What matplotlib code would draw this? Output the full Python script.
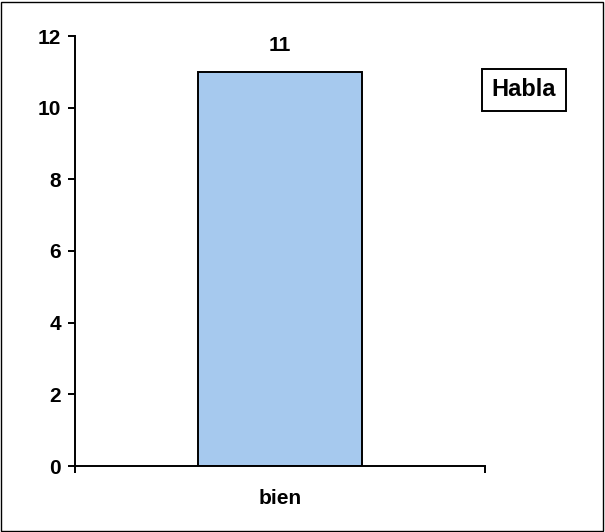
import matplotlib.pyplot as plt
from matplotlib.patches import Rectangle

categories = ['bien']
values = [11]
legend_label = 'Habla'

plt.rcParams['font.family'] = ['Liberation Sans', 'DejaVu Sans']

fig = plt.figure(figsize=(6.05, 5.32), dpi=100)
ax = fig.add_axes([75 / 605, 66 / 532, 410 / 605, 430 / 532])

bars = ax.bar(range(len(categories)), values, width=0.4, color='#A6C9EE',
              edgecolor='black', linewidth=1.4)
for b, v in zip(bars, values):
    ax.text(b.get_x() + b.get_width() / 2, v + 0.73, str(v), ha='center', va='center',
            fontsize=15, fontweight='bold')

ax.set_xlim(-0.5, len(categories) - 0.5)
ax.set_ylim(0, 12)
ax.set_yticks(range(0, 13, 2))
ax.set_xticks([-0.5, 0.5])
ax.set_xticklabels([])
ax.tick_params(axis='x', length=5, width=1.4)
ax.tick_params(axis='y', length=5, width=1.4, pad=5, labelsize=15)
for lab in ax.get_yticklabels():
    lab.set_fontweight('bold')
for i, c in enumerate(categories):
    ax.text(i, -0.9, c, ha='center', va='center', fontsize=15, fontweight='bold')

ax.spines['top'].set_visible(False)
ax.spines['right'].set_visible(False)
ax.spines['left'].set_linewidth(1.4)
ax.spines['bottom'].set_linewidth(1.4)

fig.text(524 / 605, 1 - 90 / 532, legend_label, ha='center', va='center',
         fontsize=17, fontweight='bold',
         bbox=dict(boxstyle='square,pad=0.4', facecolor='white', edgecolor='black', linewidth=1.4))

fig.patches.append(Rectangle((0.002, 0.002), 0.995, 0.995, transform=fig.transFigure,
                             fill=False, edgecolor='black', linewidth=1))

fig.savefig('out.png', dpi=100)
